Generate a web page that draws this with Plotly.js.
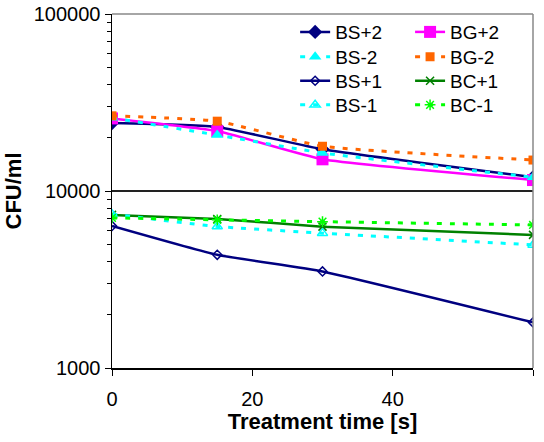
<!DOCTYPE html>
<html>
<head>
<meta charset="utf-8">
<script src="https://cdn.plot.ly/plotly-3.0.1.min.js"></script>
<style>html,body{margin:0;padding:0;background:#fff;}#chart{width:544px;height:442px;}</style>
</head>
<body>
<div id="chart"></div>
<script>
const time = [0, 15, 30, 60];
const bsPlus2  = [24200, 23000, 17200, 11950];
const bgPlus2  = [25700, 21800, 15100, 11530];
const bsMinus2 = [25900, 20700, 16400, 11950];
const bgMinus2 = [26600, 24800, 17900, 14960];
const bsPlus1  = [6350, 4360, 3510, 1810];
const bcPlus1  = [7330, 6950, 6290, 5650];
const bsMinus1 = [7400, 6300, 5780, 4960];
const bcMinus1 = [7050, 6870, 6710, 6430];
const names = ['BS+2', 'BG+2', 'BS-2', 'BG-2', 'BS+1', 'BC+1', 'BS-1', 'BC-1'];
const yTickVals = [1000, 10000, 100000];
const yTickText = ['1000', '10000', '100000'];
const xTickVals = [0, 20, 40, 60];

const dotDash = '5px,8px';
function tr(name, y, color, dash, width, symbol, size, mline, leg) {
  return {
    x: time, y: y, name: name, type: 'scatter', mode: 'lines+markers', legend: leg,
    line: {color: color, width: width, dash: dash, shape: 'spline', smoothing: 0.4},
    marker: {color: color, symbol: symbol, size: size, line: {color: color, width: mline}}
  };
}
const data = [
  tr(names[0], bsPlus2, '#000080', 'solid', 2.5, 'diamond', 11, 0, 'legend'),
  tr(names[1], bgPlus2, '#FF00FF', 'solid', 2.5, 'square', 12, 0, 'legend2'),
  tr(names[2], bsMinus2, '#00FFFF', dotDash, 3, 'triangle-up', 11, 0, 'legend3'),
  tr(names[3], bgMinus2, '#FF6600', dotDash, 3, 'square', 9, 0, 'legend4'),
  tr(names[4], bsPlus1, '#000080', 'solid', 2.5, 'diamond-open', 7, 1.5, 'legend5'),
  tr(names[5], bcPlus1, '#008000', 'solid', 2.5, 'x-thin-open', 8, 1.5, 'legend6'),
  tr(names[6], bsMinus1, '#00FFFF', dotDash, 3, 'triangle-up-open', 9, 1.5, 'legend7'),
  tr(names[7], bcMinus1, '#00FF00', dotDash, 3, 'asterisk-open', 9, 1.5, 'legend8')
];

const colX = [0.435, 0.708];
const rowY = [0.949, 0.879, 0.811, 0.743];
function leg(i) {
  return {
    x: colX[i % 2], xanchor: 'left', y: rowY[Math.floor(i / 2)], yanchor: 'middle',
    font: {size: 19, family: 'Liberation Sans, Arial, sans-serif', color: '#000'},
    bgcolor: 'rgba(255,255,255,0)', borderwidth: 0
  };
}

const layout = {
  width: 544, height: 442,
  margin: {l: 112, r: 11, t: 14, b: 74},
  paper_bgcolor: '#fff', plot_bgcolor: '#fff',
  font: {family: 'Liberation Sans, Arial, sans-serif', color: '#000', size: 19},
  showlegend: true,
  legend: leg(0), legend2: leg(1), legend3: leg(2), legend4: leg(3),
  legend5: leg(4), legend6: leg(5), legend7: leg(6), legend8: leg(7),
  xaxis: {
    range: [0, 60], tickvals: xTickVals, ticks: 'outside', ticklen: 6, tickcolor: '#000',
    showline: true, linecolor: '#000', linewidth: 1.5, showgrid: false, zeroline: false,
    tickfont: {size: 20}, ticklabelstandoff: 6,
    title: {text: '<b>Treatment time [s]</b>', font: {size: 22}, standoff: 2}
  },
  yaxis: {
    type: 'log', range: [3, 5], tickvals: yTickVals, ticktext: yTickText,
    ticks: 'outside', ticklen: 6, tickcolor: '#000',
    minor: {ticks: 'outside', ticklen: 4, tickcolor: '#000', dtick: 'D1', showgrid: false},
    showline: true, linecolor: '#000', linewidth: 1.5,
    showgrid: true, gridcolor: '#222', gridwidth: 1.2, zeroline: false,
    tickfont: {size: 20},
    title: {text: '<b>CFU/ml</b>', font: {size: 22}, standoff: 6}
  },
  shapes: [
    {type: 'line', xref: 'paper', yref: 'paper', x0: 0, x1: 1, y0: 1, y1: 1, line: {color: '#888', width: 1.5}},
    {type: 'line', xref: 'paper', yref: 'paper', x0: 1, x1: 1, y0: 0, y1: 1, line: {color: '#888', width: 1.5}}
  ]
};
Plotly.newPlot('chart', data, layout, {displayModeBar: false, staticPlot: true});
</script>
</body>
</html>
